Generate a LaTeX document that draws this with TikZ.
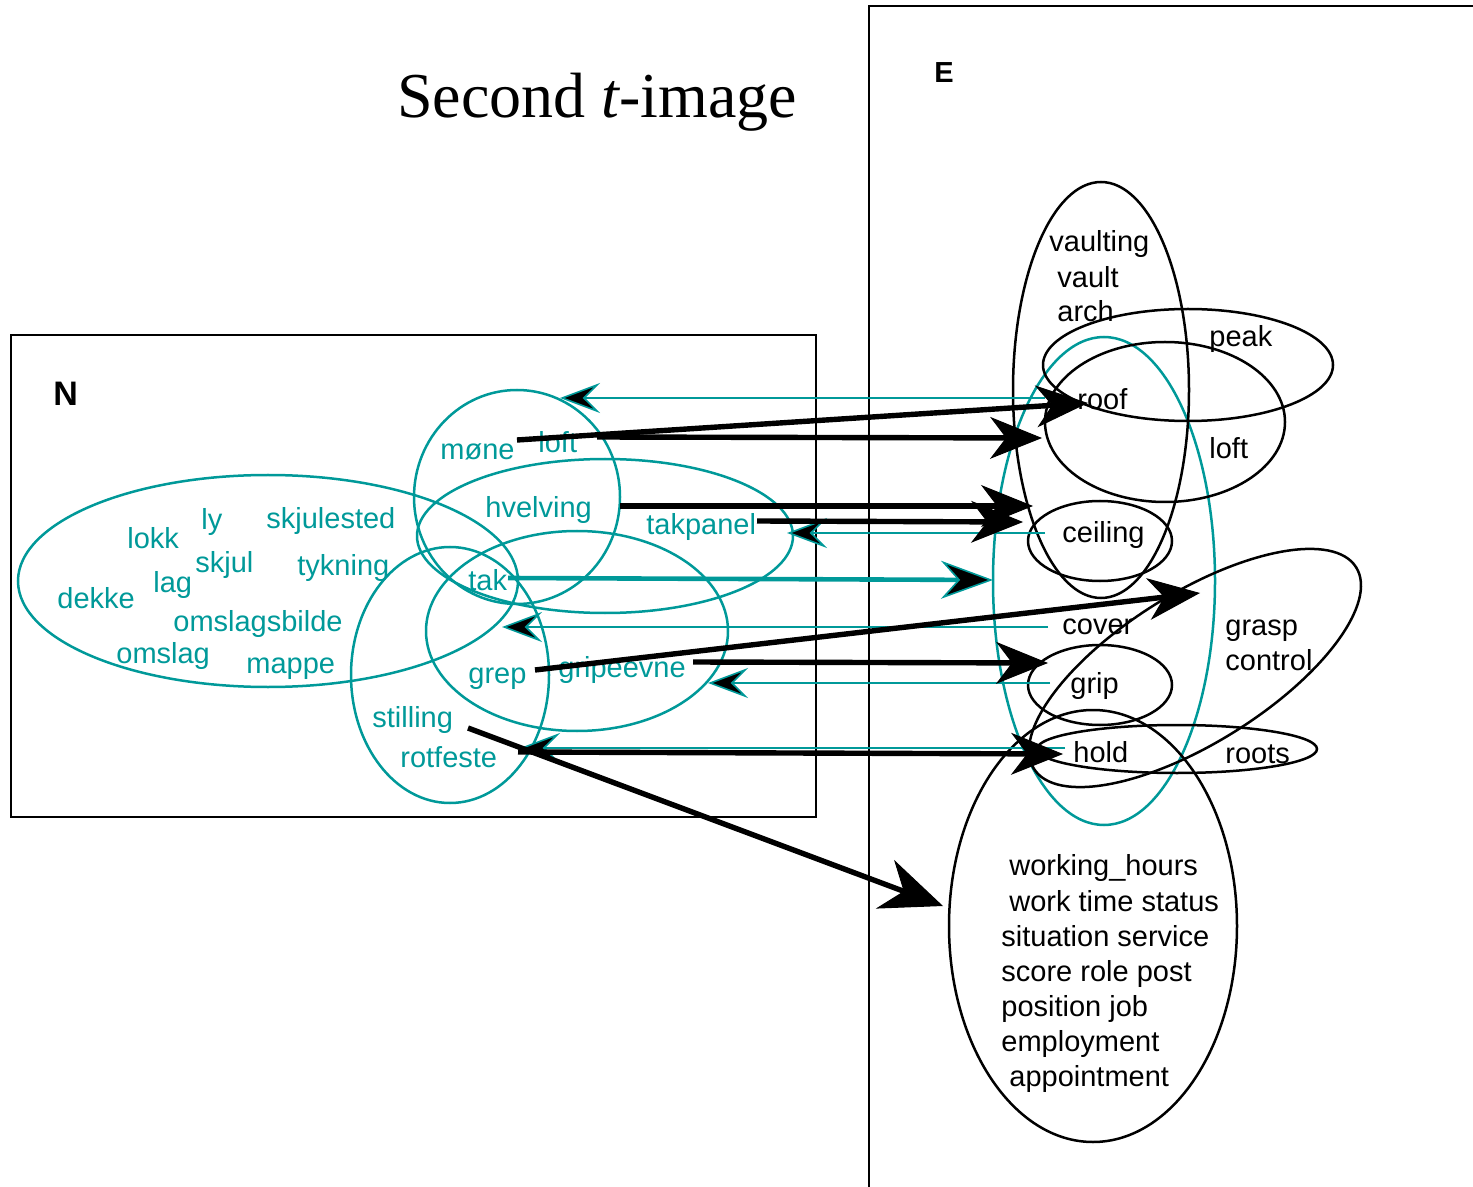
\documentclass[tikz,border=0pt]{standalone}
\usepackage{fontspec}
\setmainfont{Liberation Sans}
\newfontfamily\titleserif{Liberation Serif}
\usetikzlibrary{arrows.meta}
\definecolor{tealline}{RGB}{0,153,153}
\begin{document}
\begin{tikzpicture}[x=0.5pt,y=-0.5pt,
  lbl/.style={anchor=base west,inner sep=0pt,font=\fontsize{14.5}{17}\selectfont},
  nword/.style={lbl,text=tealline},
  eword/.style={lbl,text=black},
  setlbl/.style={anchor=base west,inner sep=0pt,font=\fontsize{16}{19}\selectfont\bfseries},
  frame/.style={draw=black,line width=1.2pt},
  tset/.style={draw=tealline,line width=1.25pt},
  eset/.style={draw=black,line width=1.25pt},
  fwd/.style={draw=black,line width=2.7pt,
    -{Stealth[length=26pt,width=21pt,inset=8pt,line width=0.5pt]}},
  bigfwd/.style={draw=black,line width=2.7pt,
    -{Stealth[length=31pt,width=26pt,inset=10pt,line width=0.5pt]}},
  tfwd/.style={draw=tealline,line width=2.3pt,
    -{Stealth[length=26pt,width=19pt,inset=8.5pt,fill=black,line width=0.8pt]}},
  tback/.style={draw=tealline,line width=1.1pt,
    -{Stealth[length=20pt,width=15pt,inset=7.5pt,fill=black,line width=0.8pt]}}
]
\useasboundingbox (0,0) rectangle (1473,1187);

% title
\node[anchor=base west,inner sep=0pt,font=\titleserif\fontsize{32}{38}\selectfont]
  (title) at (397,118) {Second {\itshape t}-image};

% the two frames
\draw[frame] (11,335) rectangle (816,817);
\draw[frame] (869,1187) -- (869,6) -- (1473,6);
\node[setlbl,font=\fontsize{17}{20}\selectfont\bfseries] (nset) at (53,406) {N};
\node[setlbl,font=\fontsize{14.5}{17}\selectfont\bfseries] (eset) at (934,83) {E};

% Norwegian word sets
\draw[tset] (268,581) ellipse [x radius=125pt, y radius=53pt];
\draw[tset] (517,497) ellipse [x radius=51.5pt, y radius=53.5pt];
\draw[tset] (605,536) ellipse [x radius=94pt, y radius=38.5pt];
\draw[tset] (577,631) ellipse [x radius=75.5pt, y radius=50pt];
\draw[tset] (450,675) ellipse [x radius=49.5pt, y radius=64pt];

% English word sets
\draw[tset] (1104,581) ellipse [x radius=55.5pt, y radius=122pt];
\draw[eset] (1101,390) ellipse [x radius=44pt, y radius=104pt];
\draw[eset] (1188,365) ellipse [x radius=72.5pt, y radius=28pt];
\draw[eset] (1165,422) ellipse [x radius=60pt, y radius=40pt];
\draw[eset] (1100,541) ellipse [x radius=36pt, y radius=20pt];
\draw[eset] (1100,685) ellipse [x radius=36pt, y radius=20pt];
\draw[eset] (1177,749) ellipse [x radius=70pt, y radius=12pt];
\draw[eset,rotate around={32:(1195,668)}] (1195,668) ellipse [x radius=95pt, y radius=37.5pt];
\draw[eset] (1093,926) ellipse [x radius=72pt, y radius=108pt];

% Norwegian words
\node[nword] (mone) at (440,460) {møne};
\node[nword] (loftn) at (538,453) {loft};
\node[nword] (hvelving) at (485,517) {hvelving};
\node[nword] (takpanel) at (646,535) {takpanel};
\node[nword] (tak) at (468,590) {tak};
\node[nword] (grep) at (468,683) {grep};
\node[nword] (gripeevne) at (558,677) {gripeevne};
\node[nword] (stilling) at (372,727) {stilling};
\node[nword] (rotfeste) at (400,767) {rotfeste};
\node[nword] (lokk) at (127,548) {lokk};
\node[nword] (ly) at (201,530) {ly};
\node[nword] (skjulested) at (266,529) {skjulested};
\node[nword] (skjul) at (195,573) {skjul};
\node[nword] (tykning) at (297,575) {tykning};
\node[nword] (lag) at (153,592) {lag};
\node[nword] (dekke) at (57,608) {dekke};
\node[nword] (omslagsbilde) at (173,632) {omslagsbilde};
\node[nword] (omslag) at (116,663) {omslag};
\node[nword] (mappe) at (246,673) {mappe};

% English words
\node[eword] (vaulting) at (1049,252) {vaulting};
\node[eword] (vault) at (1057,288) {vault};
\node[eword] (arch) at (1057,322) {arch};
\node[eword] (peak) at (1209,347) {peak};
\node[eword] (roof) at (1077,410) {roof};
\node[eword] (lofte) at (1209,459) {loft};
\node[eword] (ceiling) at (1062,543) {ceiling};
\node[eword] (cover) at (1062,634) {cover};
\node[eword] (grasp) at (1225,635) {grasp};
\node[eword] (control) at (1225,670) {control};
\node[eword] (grip) at (1070,693) {grip};
\node[eword] (hold) at (1073,762) {hold};
\node[eword] (roots) at (1225,763) {roots};
\node[eword] (wk1) at (1009,875) {working\_hours};
\node[eword] (wk2) at (1009,911) {work time status};
\node[eword] (wk3) at (1001,946) {situation service};
\node[eword] (wk4) at (1001,981) {score role post};
\node[eword] (wk5) at (1001,1016) {position job};
\node[eword] (wk6) at (1001,1051) {employment};
\node[eword] (wk7) at (1009,1086) {appointment};

% connector ends
\coordinate (moneT) at (517,440);  \coordinate (roofH) at (1088,403);
\coordinate (loftT) at (597,437);  \coordinate (roofL) at (1042,438);
\coordinate (hvelT) at (620,506);  \coordinate (ceilA) at (1033,506);
\coordinate (tpanT) at (757,521);  \coordinate (ceilB) at (1023,522);
\coordinate (takT) at (508,578);   \coordinate (coverH) at (993,580);
\coordinate (grepT) at (535,670);  \coordinate (graspH) at (1200,593);
\coordinate (gevT) at (693,662);   \coordinate (gripH) at (1048,663);
\coordinate (rotT) at (518,752);   \coordinate (holdH) at (1063,754);
\coordinate (stilT) at (468,728);  \coordinate (workH) at (943,906);
\coordinate (roofB) at (1045,398); \coordinate (loftN) at (560,398);
\coordinate (ceilT) at (1045,533); \coordinate (tpanH) at (787,533);
\coordinate (coverT) at (1048,627);\coordinate (takH) at (502,627);
\coordinate (gripT) at (1050,683); \coordinate (gevH) at (708,683);
\coordinate (holdT) at (1065,748); \coordinate (rotH) at (520,748);

% translations back into N
\draw[tback] (roofB) -- (loftN);
\draw[tback] (ceilT) -- (tpanH);
\draw[tback] (coverT) -- (takH);
\draw[tback] (gripT) -- (gevH);
\draw[tback] (holdT) -- (rotH);

% translations into E
\draw[fwd] (moneT) -- (roofH);
\draw[fwd] (loftT) -- (roofL);
\draw[fwd] (hvelT) -- (ceilA);
\draw[fwd] (tpanT) -- (ceilB);
\draw[tfwd] (takT) -- (coverH);
\draw[fwd] (grepT) -- (graspH);
\draw[fwd] (gevT) -- (gripH);
\draw[fwd] (rotT) -- (holdH);
\draw[bigfwd] (stilT) -- (workH);
\end{tikzpicture}
\end{document}
